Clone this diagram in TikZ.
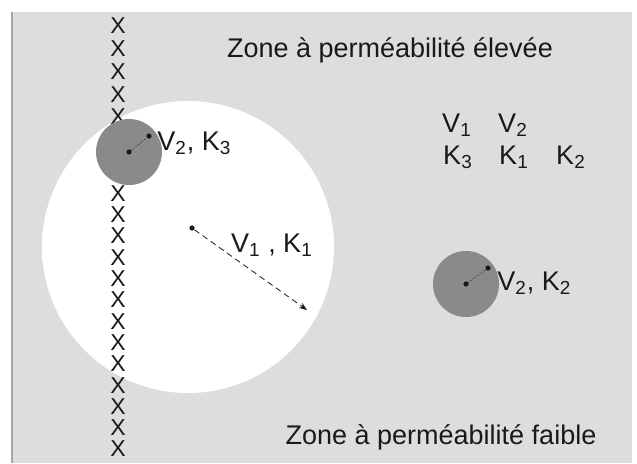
\documentclass[tikz,border=0pt]{standalone}
\usepackage{fontspec}
\setmainfont{Liberation Sans}
\usepackage{tikz}
\usetikzlibrary{arrows.meta, positioning}
\definecolor{zonegray}{RGB}{221,221,221}
\definecolor{edgegray}{RGB}{165,165,165}
\definecolor{blobgray}{RGB}{138,138,138}
\definecolor{inkdark}{RGB}{25,25,25}
\pgfdeclareradialshading{softdisc}{\pgfpointorigin}{color(0bp)=(white); color(43bp)=(white); color(50bp)=(zonegray)}
\tikzset{
  zonetext/.style={font=\fontsize{13.5}{16}\selectfont, text=inkdark, inner sep=0pt},
  vktext/.style={font=\fontsize{13.5}{16}\selectfont, text=inkdark, inner sep=0pt},
  cross/.style={font=\fontsize{11.5}{12}\selectfont, text=inkdark, inner sep=0pt,
    text height=8.3pt, text depth=0pt},
  disc/.style={circle, shading=softdisc, minimum size=146pt, inner sep=0pt},
  blob/.style={circle, fill=blobgray, minimum size=33pt, inner sep=0pt},
  dot/.style={circle, fill=inkdark, minimum size=2.6pt, inner sep=0pt},
  radline/.style={densely dotted, thin, color=inkdark},
  arrow/.style={-{Stealth[length=4pt]}, densely dashed, thin, color=inkdark}
}

\begin{document}
\begin{tikzpicture}[x=0.5pt, y=-0.5pt]
  \useasboundingbox (0,0) rectangle (637,463);

  % Background zone
  \fill[zonegray] (12,12) rectangle (632,463);
  \draw[edgegray, line width=0.8pt] (12,12) -- (12,463);

  % High permeability disc
  \node[disc] (disc) at (188,247) {};

  % Row of crosses
  \foreach \y [count=\i] in {25,48,71,94,116}
    \node[cross] (xa\i) at (118,\y) {X};
  \foreach \k in {0,...,12}
    \node[cross] (xb\k) at (118,{193+21.3*\k}) {X};

  % Small blobs
  \node[blob] (blob1) at (129,152) {};
  \node[blob] (blob2) at (466,284) {};

  % Radius of the disc
  \node[dot] (c1) at (192,228) {};
  \coordinate (r1) at (307,310);
  \draw[arrow] (c1) -- (r1);
  \node[vktext] (lab1) at (272,245) {V\textsubscript{1} , K\textsubscript{1}};

  % Radius of blob 1
  \node[dot] (c2) at (blob1.center) {};
  \node[dot] (e2) at (149,136) {};
  \draw[radline] (c2) -- (e2);
  \node[vktext, anchor=west] (lab2) at (157,143) {V\textsubscript{2}, K\textsubscript{3}};

  % Radius of blob 2
  \node[dot] (c3) at (blob2.center) {};
  \node[dot] (e3) at (488,268) {};
  \draw[radline] (c3) -- (e3);
  \node[vktext, anchor=west] (lab3) at (497,283) {V\textsubscript{2}, K\textsubscript{2}};

  % Legend of values
  \node[vktext] (v1) at (457,125) {V\textsubscript{1}};
  \node[vktext] (v2) at (513,125) {V\textsubscript{2}};
  \node[vktext] (k3) at (458,157) {K\textsubscript{3}};
  \node[vktext] (k1) at (514,157) {K\textsubscript{1}};
  \node[vktext] (k2) at (571,157) {K\textsubscript{2}};

  % Zone titles
  \node[zonetext] (high) at (390,50) {Zone à perméabilité élevée};
  \node[zonetext] (low) at (441,437) {Zone à perméabilité faible};
\end{tikzpicture}
\end{document}
